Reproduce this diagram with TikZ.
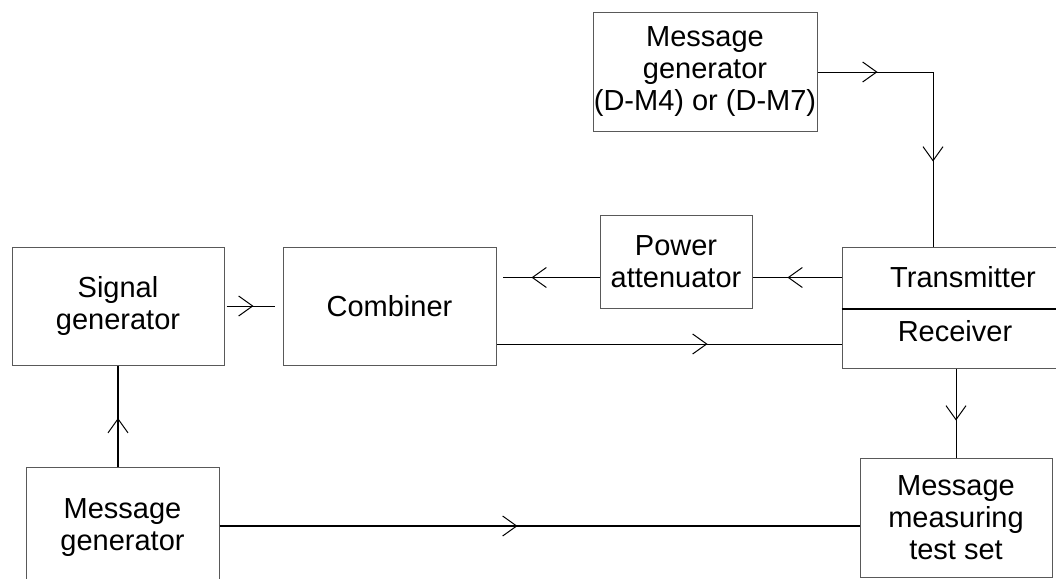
\documentclass[tikz,border=0pt]{standalone}
\usepackage{fontspec}
\setmainfont{Liberation Sans}
\usetikzlibrary{positioning, arrows.meta, decorations.markings}

\tikzset{
  blockbox/.style={draw=black!65, line width=1pt, align=center, inner sep=0pt,
                   font=\fontsize{29}{32}\selectfont},
  sigline/.style={draw=black, line width=1pt},
  heavyline/.style={draw=black, line width=2.5pt},
  arrowat/.style={postaction={decorate, decoration={markings,
      mark=at position #1 with {\arrow{Straight Barb[length=14pt, width=20pt, line width=1pt]}}}}}
}

\begin{document}
\begin{tikzpicture}[x=1pt, y=-1pt]
  \useasboundingbox (0,0) rectangle (1056,578);

  % blocks
  \node[blockbox, minimum width=224pt, minimum height=118pt] (mgtop) at (705,72)
       {Message\\generator\\(D-M4) or (D-M7)};
  \node[blockbox, minimum width=212pt, minimum height=118pt] (siggen) at (118,306)
       {Signal\\generator};
  \node[blockbox, minimum width=213pt, minimum height=118pt] (comb) at (389.5,306)
       {Combiner};
  \node[blockbox, minimum width=152pt, minimum height=93pt] (atten) at (676,261.5)
       {Power\\attenuator};
  \node[blockbox, minimum width=242pt, minimum height=61pt] (tx) at (963,277.5)
       {Transmitter};
  \node[blockbox, minimum width=242pt, minimum height=60pt, text depth=14pt] (rx) at (963,338)
       {Receiver\hspace*{16pt}};
  \draw[line width=2pt] (tx.south west) -- (tx.south east);
  \node[blockbox, minimum width=192pt, minimum height=119pt] (meas) at (956,517.5)
       {Message\\measuring\\test set};
  \node[blockbox, minimum width=193pt, anchor=north, text height=83pt, text depth=150pt]
       (mggen) at (122.5,467) {Message\\generator};

  % connections
  \coordinate (corner) at (933,72);
  \draw[sigline, arrowat=60pt, arrowat=205pt]
       (mgtop.east) -- (corner) -- (corner |- tx.north);
  \draw[sigline, arrowat=54pt] (tx.west) -- (tx.west -| atten.east);
  \draw[sigline, arrowat=68pt, shorten >=6pt] (tx.west -| atten.west) -- (tx.west -| comb.east);
  \draw[sigline, arrowat=29pt, shorten <=2pt, shorten >=8pt] (siggen.east) -- (comb.west);
  \coordinate (ret) at ([yshift=-38pt]comb.east);
  \draw[sigline, arrowat=211pt] (ret) -- (ret -| rx.west);
  \draw[sigline, arrowat=52pt] (meas.north |- rx.south) -- (meas.north);
  \draw[heavyline, arrowat=49pt] (siggen.south |- mggen.north) -- (siggen.south);
  \coordinate (lowrow) at ([yshift=-8.5pt]meas.west);
  \draw[heavyline, arrowat=298pt] (lowrow -| mggen.east) -- (lowrow);
\end{tikzpicture}
\end{document}
